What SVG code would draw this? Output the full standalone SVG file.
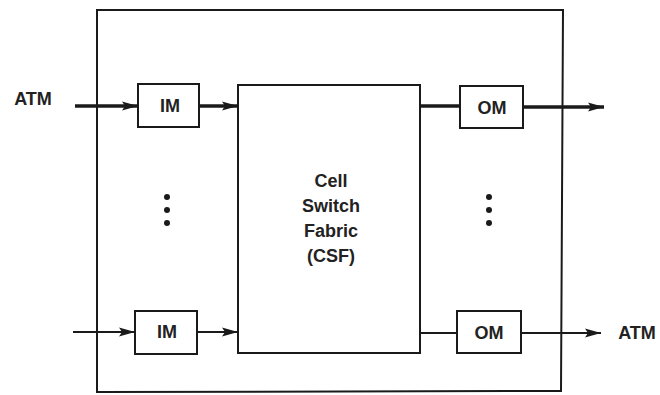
<svg xmlns="http://www.w3.org/2000/svg" width="660" height="395" viewBox="0 0 660 395">
<style>
.box{fill:none;stroke:#1a1a1a;stroke-width:2}
.lbl{font-family:"Liberation Sans",Arial,sans-serif;font-size:18px;font-weight:bold;fill:#222;text-anchor:middle}
.csf{font-family:"Liberation Sans",Arial,sans-serif;font-size:18px;font-weight:bold;fill:#222;text-anchor:middle}
.thick{stroke:#1a1a1a;stroke-width:3.5;fill:none}
.thin{stroke:#1a1a1a;stroke-width:2;fill:none}
.dot{fill:#1a1a1a}
</style>
<defs>
<marker id="ah" markerUnits="userSpaceOnUse" markerWidth="17" markerHeight="12" refX="16" refY="6" orient="auto">
<path d="M0,1.5 L16,6 L0,10.5 L3,6 Z" fill="#1a1a1a"/>
</marker>
</defs>
<rect width="660" height="395" fill="#ffffff"/>
<g id="frame"><path class="box" d="M97,392 L97,10 L563,10 L561,391 Z"/></g>
<g id="csf">
<rect class="box" x="238" y="85" width="182" height="268"/>
<text class="csf" x="331" y="187">Cell</text>
<text class="csf" x="331" y="212">Switch</text>
<text class="csf" x="331" y="237">Fabric</text>
<text class="csf" x="331" y="262">(CSF)</text>
</g>
<g id="im1"><rect class="box" x="138" y="84" width="61" height="43"/><text class="lbl" x="170" y="112">IM</text></g>
<g id="im2"><rect class="box" x="135" y="311" width="62" height="43"/><text class="lbl" x="167" y="338">IM</text></g>
<g id="om1"><rect class="box" x="460" y="86" width="63" height="42"/><text class="lbl" x="492" y="114">OM</text></g>
<g id="om2"><rect class="box" x="457" y="311" width="64" height="42"/><text class="lbl" x="489" y="339">OM</text></g>
<g id="labels">
<text class="lbl" x="33" y="105">ATM</text>
<text class="lbl" x="637" y="339">ATM</text>
</g>
<g id="dots">
<circle class="dot" cx="167" cy="197" r="3"/><circle class="dot" cx="167" cy="210" r="3"/><circle class="dot" cx="167" cy="223" r="3"/>
<circle class="dot" cx="489" cy="197" r="3"/><circle class="dot" cx="489" cy="210" r="3"/><circle class="dot" cx="489" cy="223" r="3"/>
</g>
<g id="connectors">
<line class="thick" x1="75" y1="106" x2="138" y2="106" marker-end="url(#ah)"/>
<line class="thick" x1="199" y1="106" x2="238" y2="106" marker-end="url(#ah)"/>
<line class="thick" x1="420" y1="106" x2="460" y2="106"/>
<line class="thick" x1="523" y1="107" x2="604" y2="107" marker-end="url(#ah)"/>
<line class="thin" x1="73" y1="332" x2="135" y2="332" marker-end="url(#ah)"/>
<line class="thin" x1="197" y1="332" x2="238" y2="332" marker-end="url(#ah)"/>
<line class="thin" x1="420" y1="333" x2="457" y2="333"/>
<line class="thin" x1="521" y1="333" x2="601" y2="333" marker-end="url(#ah)"/>
</g>
</svg>
